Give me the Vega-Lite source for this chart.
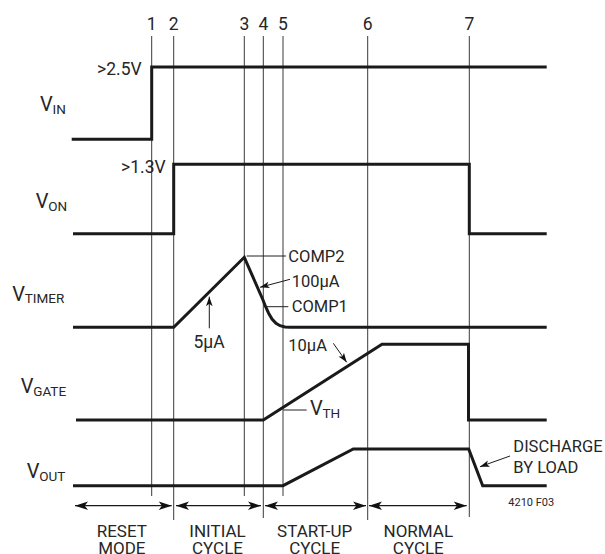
{
  "$schema": "https://vega.github.io/schema/vega-lite/v6.json",
  "width": 605,
  "height": 554,
  "padding": 0,
  "autosize": {"type": "none"},
  "background": "white",
  "config": {
    "view": {"stroke": null},
    "text": {"font": "Roboto", "fill": "#262626"}
  },
  "datasets": {
    "signals": [
      {"s": "VIN", "i": 0, "t": 71.7, "v": 139.3},
      {"s": "VIN", "i": 1, "t": 151.7, "v": 139.3},
      {"s": "VIN", "i": 2, "t": 151.7, "v": 67},
      {"s": "VIN", "i": 3, "t": 546.7, "v": 67},
      {"s": "VON", "i": 0, "t": 73, "v": 233.7},
      {"s": "VON", "i": 1, "t": 173.7, "v": 233.7},
      {"s": "VON", "i": 2, "t": 173.7, "v": 164.3},
      {"s": "VON", "i": 3, "t": 469.3, "v": 164.3},
      {"s": "VON", "i": 4, "t": 469.3, "v": 233.7},
      {"s": "VON", "i": 5, "t": 546.7, "v": 233.7},
      {"s": "VTIMER", "i": 0, "t": 73, "v": 327.3},
      {"s": "VTIMER", "i": 1, "t": 173.7, "v": 327.3},
      {"s": "VTIMER", "i": 2, "t": 244.3, "v": 257.3},
      {"s": "VTIMER", "i": 3, "t": 263, "v": 300},
      {"s": "VTIMER", "i": 4, "t": 265.5, "v": 306.5},
      {"s": "VTIMER", "i": 5, "t": 268.5, "v": 313},
      {"s": "VTIMER", "i": 6, "t": 272, "v": 319},
      {"s": "VTIMER", "i": 7, "t": 276, "v": 323.3},
      {"s": "VTIMER", "i": 8, "t": 280, "v": 325.7},
      {"s": "VTIMER", "i": 9, "t": 285, "v": 327},
      {"s": "VTIMER", "i": 10, "t": 290, "v": 327.3},
      {"s": "VTIMER", "i": 11, "t": 546.7, "v": 327.3},
      {"s": "VGATE", "i": 0, "t": 76, "v": 420},
      {"s": "VGATE", "i": 1, "t": 263.3, "v": 420},
      {"s": "VGATE", "i": 2, "t": 382, "v": 344.3},
      {"s": "VGATE", "i": 3, "t": 468.5, "v": 344.3},
      {"s": "VGATE", "i": 4, "t": 468.5, "v": 420},
      {"s": "VGATE", "i": 5, "t": 546.7, "v": 420},
      {"s": "VOUT", "i": 0, "t": 73, "v": 485.7},
      {"s": "VOUT", "i": 1, "t": 283, "v": 485.7},
      {"s": "VOUT", "i": 2, "t": 353.3, "v": 449},
      {"s": "VOUT", "i": 3, "t": 468.7, "v": 449},
      {"s": "VOUT", "i": 4, "t": 482.7, "v": 485.7},
      {"s": "VOUT", "i": 5, "t": 546.7, "v": 485.7}
    ],
    "markers": [
      {"n": "1", "x": 151.7, "top": 36, "bot": 496},
      {"n": "2", "x": 173.7, "top": 36, "bot": 520},
      {"n": "3", "x": 244.3, "top": 36, "bot": 496},
      {"n": "4", "x": 263.3, "top": 36, "bot": 518},
      {"n": "5", "x": 283, "top": 36, "bot": 496},
      {"n": "6", "x": 367.7, "top": 36, "bot": 520},
      {"n": "7", "x": 469.3, "top": 36, "bot": 517}
    ],
    "leaders": [
      {"x1": 246.7, "y1": 256, "x2": 286, "y2": 256},
      {"x1": 265, "y1": 306.7, "x2": 288.3, "y2": 306.7},
      {"x1": 283.3, "y1": 410, "x2": 306.7, "y2": 410}
    ],
    "arrows": [
      {"name": "5uA", "x1": 209.3, "y1": 328.3, "x2": 209.3, "y2": 296.7},
      {"name": "100uA", "x1": 290, "y1": 279.3, "x2": 260, "y2": 287.3},
      {"name": "10uA", "x1": 333.3, "y1": 343.3, "x2": 346.7, "y2": 362.3},
      {"name": "discharge", "x1": 510, "y1": 456, "x2": 480, "y2": 466.7}
    ],
    "spans": [
      {"phase": "RESET MODE", "x1": 75, "x2": 171.7, "y": 505.7},
      {"phase": "INITIAL CYCLE", "x1": 176, "x2": 261, "y": 505.7},
      {"phase": "START-UP CYCLE", "x1": 265, "x2": 366, "y": 505.7},
      {"phase": "NORMAL CYCLE", "x1": 369, "x2": 466.7, "y": 505.7}
    ],
    "sigLabels": [
      {"main": "V", "sub": "IN", "x": 40, "y": 111},
      {"main": "V", "sub": "ON", "x": 35.7, "y": 208.3},
      {"main": "V", "sub": "TIMER", "x": 12.3, "y": 300.7},
      {"main": "V", "sub": "GATE", "x": 20.7, "y": 393.3},
      {"main": "V", "sub": "OUT", "x": 26.7, "y": 478.3},
      {"main": "V", "sub": "TH", "x": 310, "y": 415}
    ],
    "textCenter": [
      {"text": "1", "x": 151.7, "y": 30},
      {"text": "2", "x": 173.7, "y": 30},
      {"text": "3", "x": 244.3, "y": 30},
      {"text": "4", "x": 263.3, "y": 30},
      {"text": "5", "x": 283, "y": 30},
      {"text": "6", "x": 367.7, "y": 30},
      {"text": "7", "x": 469.3, "y": 30},
      {"text": "5µA", "x": 209, "y": 348.3}
    ],
    "phaseText": [
      {"text": "RESET", "x": 121.8, "y": 536.5},
      {"text": "MODE", "x": 121.8, "y": 553.8},
      {"text": "INITIAL", "x": 217.5, "y": 536.5},
      {"text": "CYCLE", "x": 217.5, "y": 553.8},
      {"text": "START-UP", "x": 314.7, "y": 536.5},
      {"text": "CYCLE", "x": 314.7, "y": 553.8},
      {"text": "NORMAL", "x": 418.3, "y": 536.5},
      {"text": "CYCLE", "x": 418.3, "y": 553.8}
    ],
    "textRight": [
      {"text": ">2.5V", "x": 141.7, "y": 75},
      {"text": ">1.3V", "x": 165.7, "y": 172.7}
    ],
    "textLeft": [
      {"text": "COMP2", "x": 288.3, "y": 261.7},
      {"text": "100µA", "x": 291.7, "y": 286.7},
      {"text": "COMP1", "x": 291.7, "y": 311.7},
      {"text": "10µA", "x": 288.3, "y": 350.7},
      {"text": "DISCHARGE", "x": 513.3, "y": 451.7},
      {"text": "BY LOAD", "x": 513.3, "y": 473.3}
    ],
    "note": [
      {"text": "4210 F03", "x": 508.3, "y": 505.7}
    ]
  },
  "encoding": {},
  "layer": [
    {
      "data": {"name": "markers"},
      "mark": {"type": "rule", "stroke": "#3a3a3a", "strokeWidth": 1},
      "encoding": {
        "x": {"field": "x", "type": "quantitative", "scale": {"domain": [0, 605], "nice": false, "zero": false}, "axis": null},
        "y": {"field": "top", "type": "quantitative", "scale": {"domain": [0, 554], "nice": false, "zero": false, "reverse": true}, "axis": null},
        "y2": {"field": "bot"}
      }
    },
    {
      "data": {"name": "leaders"},
      "mark": {"type": "rule", "stroke": "#222", "strokeWidth": 1},
      "encoding": {
        "x": {"field": "x1", "type": "quantitative"},
        "x2": {"field": "x2"},
        "y": {"field": "y1", "type": "quantitative"},
        "y2": {"field": "y2"}
      }
    },
    {
      "data": {"name": "signals"},
      "mark": {"type": "line", "stroke": "#1a1a1a", "strokeWidth": 3, "strokeJoin": "miter", "strokeCap": "butt"},
      "encoding": {
        "x": {"field": "t", "type": "quantitative"},
        "y": {"field": "v", "type": "quantitative"},
        "detail": {"field": "s"},
        "order": {"field": "i", "type": "quantitative"}
      }
    },
    {
      "data": {"name": "arrows"},
      "mark": {"type": "rule", "stroke": "#1a1a1a", "strokeWidth": 1},
      "encoding": {
        "x": {"field": "x1", "type": "quantitative"},
        "x2": {"field": "x2"},
        "y": {"field": "y1", "type": "quantitative"},
        "y2": {"field": "y2"}
      }
    },
    {
      "data": {"name": "arrows"},
      "transform": [{"calculate": "atan2(datum.y2 - datum.y1, datum.x2 - datum.x1) * 180 / PI", "as": "ang"}],
      "mark": {"type": "point", "shape": "M0,0L-2,-0.7L-1.5,0L-2,0.7Z", "size": 90, "filled": true, "fill": "#111", "opacity": 1, "strokeWidth": 0},
      "encoding": {
        "x": {"field": "x2", "type": "quantitative"},
        "y": {"field": "y2", "type": "quantitative"},
        "angle": {"field": "ang", "type": "quantitative", "scale": null}
      }
    },
    {
      "data": {"name": "spans"},
      "mark": {"type": "rule", "stroke": "#1a1a1a", "strokeWidth": 1.3},
      "encoding": {
        "x": {"field": "x1", "type": "quantitative"},
        "x2": {"field": "x2"},
        "y": {"field": "y", "type": "quantitative"}
      }
    },
    {
      "data": {"name": "spans"},
      "mark": {"type": "point", "shape": "M0,0L-2,-0.65L-1.5,0L-2,0.65Z", "size": 169, "filled": true, "fill": "#111", "opacity": 1, "strokeWidth": 0, "angle": 180},
      "encoding": {
        "x": {"field": "x1", "type": "quantitative"},
        "y": {"field": "y", "type": "quantitative"}
      }
    },
    {
      "data": {"name": "spans"},
      "mark": {"type": "point", "shape": "M0,0L-2,-0.65L-1.5,0L-2,0.65Z", "size": 169, "filled": true, "fill": "#111", "opacity": 1, "strokeWidth": 0, "angle": 0},
      "encoding": {
        "x": {"field": "x2", "type": "quantitative"},
        "y": {"field": "y", "type": "quantitative"}
      }
    },
    {
      "data": {"name": "sigLabels"},
      "mark": {"type": "text", "align": "left", "baseline": "alphabetic", "fontSize": 20},
      "encoding": {
        "x": {"field": "x", "type": "quantitative"},
        "y": {"field": "y", "type": "quantitative"},
        "text": {"field": "main"}
      }
    },
    {
      "data": {"name": "sigLabels"},
      "mark": {"type": "text", "align": "left", "baseline": "alphabetic", "fontSize": 13.5, "dx": 12.5, "dy": 2.5},
      "encoding": {
        "x": {"field": "x", "type": "quantitative"},
        "y": {"field": "y", "type": "quantitative"},
        "text": {"field": "sub"}
      }
    },
    {
      "data": {"name": "textCenter"},
      "mark": {"type": "text", "align": "center", "baseline": "alphabetic", "fontSize": 17.5},
      "encoding": {
        "x": {"field": "x", "type": "quantitative"},
        "y": {"field": "y", "type": "quantitative"},
        "text": {"field": "text"}
      }
    },
    {
      "data": {"name": "phaseText"},
      "mark": {"type": "text", "align": "center", "baseline": "alphabetic", "fontSize": 17},
      "encoding": {
        "x": {"field": "x", "type": "quantitative"},
        "y": {"field": "y", "type": "quantitative"},
        "text": {"field": "text"}
      }
    },
    {
      "data": {"name": "textRight"},
      "mark": {"type": "text", "align": "right", "baseline": "alphabetic", "fontSize": 17.5},
      "encoding": {
        "x": {"field": "x", "type": "quantitative"},
        "y": {"field": "y", "type": "quantitative"},
        "text": {"field": "text"}
      }
    },
    {
      "data": {"name": "textLeft"},
      "mark": {"type": "text", "align": "left", "baseline": "alphabetic", "fontSize": 16.5},
      "encoding": {
        "x": {"field": "x", "type": "quantitative"},
        "y": {"field": "y", "type": "quantitative"},
        "text": {"field": "text"}
      }
    },
    {
      "data": {"name": "note"},
      "mark": {"type": "text", "align": "left", "baseline": "alphabetic", "fontSize": 11},
      "encoding": {
        "x": {"field": "x", "type": "quantitative"},
        "y": {"field": "y", "type": "quantitative"},
        "text": {"field": "text"}
      }
    }
  ]
}
